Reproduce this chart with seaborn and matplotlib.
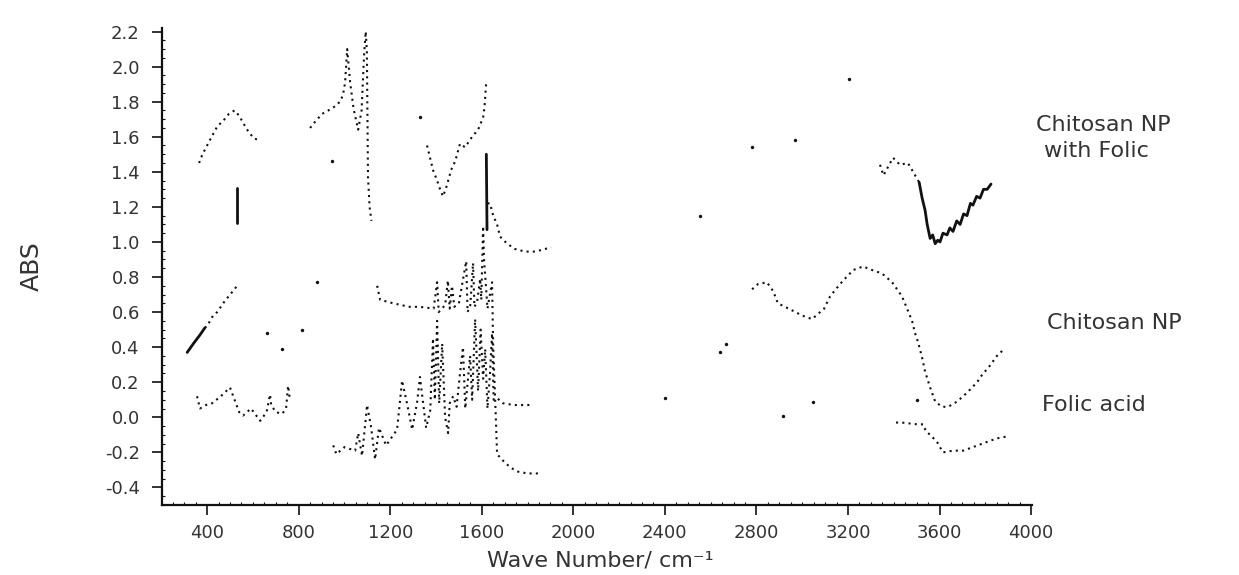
import numpy as np
import pandas as pd
import matplotlib
matplotlib.use("Agg")
import matplotlib.pyplot as plt
import seaborn as sns
from matplotlib.ticker import MultipleLocator

nan = np.nan

# ---- Chitosan NP with Folic (top trace); nan separates visible pieces of the scan
cnpf_x = [365, 380, 400, 420, 445, 470, 495, 520, 540, 557, 580, 605, 630, nan,
          531, 531, nan,
          850, 875, 902, 930, 955, 981, 994, 1003, 1012, 1025, 1040, 1060, 1075, 1086, 1093, 1098, 1103, 1110, 1118, nan,
          1361, 1387, 1405, 1418, 1431, 1447, 1466, 1484, 1505, 1527, 1558, 1584, 1606, 1612, 1619, nan,
          1620, 1623, nan,
          1625, 1636, 1650, 1667, 1680, 1711, 1745, 1789, 1833, 1877, 1903, nan,
          3340, 3355, 3397, 3427, 3462, 3480, 3511, nan,
          3511, 3524, 3537, 3546, 3559, 3570, 3581, 3592, 3602, 3615, 3633, 3645, 3659, 3675, 3690, 3705,
          3720, 3735, 3746, 3762, 3777, 3792, 3808, 3825]
cnpf_y = [1.45, 1.50, 1.55, 1.60, 1.66, 1.69, 1.73, 1.75, 1.72, 1.68, 1.63, 1.59, 1.58, nan,
          1.31, 1.11, nan,
          1.65, 1.69, 1.73, 1.75, 1.77, 1.80, 1.84, 1.91, 2.10, 1.91, 1.76, 1.64, 1.75, 2.07, 2.20, 2.09, 1.37, 1.20, 1.12, nan,
          1.55, 1.41, 1.35, 1.30, 1.26, 1.32, 1.41, 1.46, 1.56, 1.54, 1.60, 1.64, 1.71, 1.77, 1.90, nan,
          1.50, 1.07, nan,
          1.22, 1.22, 1.15, 1.10, 1.03, 0.99, 0.96, 0.945, 0.945, 0.96, 0.97, nan,
          1.44, 1.38, 1.48, 1.44, 1.45, 1.41, 1.34, nan,
          1.34, 1.25, 1.18, 1.10, 1.02, 1.04, 0.99, 1.01, 1.00, 1.05, 1.04, 1.08, 1.06, 1.12, 1.10, 1.16,
          1.15, 1.22, 1.21, 1.26, 1.25, 1.30, 1.30, 1.33]
cnpf_kinds = ["dot", "solid", "dot", "dot", "solid", "dot", "dot", "solid"]
cnpf_dots_x = [946, 1330, 2554, 2781, 2969, 3205]
cnpf_dots_y = [1.46, 1.71, 1.15, 1.54, 1.58, 1.93]

# ---- Chitosan NP (middle trace)
cnp_x = [313, 340, 369, 390, nan,
         390, 400, 426, 444, 470, 500, 520, 535, nan,
         1143, 1156, 1185, 1213, 1250, 1278, 1330, 1390, 1405, 1412, 1440, 1452, 1460, 1470, 1480, 1500,
         1532, 1538, 1550, 1562, 1568, 1580, 1593, 1598, 1606, 1610, 1625, 1645, 1650, 1660, 1667, 1702,
         1730, 1759, 1800, 1846, nan,
         2781, 2807, 2846, 2873, 2894, 2925, 2956, 3000, 3043, 3096, 3122, 3153, 3179, 3223, 3266, 3305,
         3349, 3393, 3436, 3480, 3493, 3506, 3524, 3537, 3559, 3581, 3611, 3638, 3677, 3720, 3764, 3790,
         3812, 3856, 3886]
cnp_y = [0.37, 0.42, 0.47, 0.51, nan,
         0.51, 0.52, 0.58, 0.60, 0.65, 0.70, 0.73, 0.76, nan,
         0.75, 0.67, 0.66, 0.65, 0.64, 0.63, 0.63, 0.62, 0.77, 0.60, 0.64, 0.78, 0.62, 0.75, 0.63, 0.65,
         0.89, 0.60, 0.64, 0.88, 0.63, 0.66, 0.79, 0.67, 1.09, 0.90, 0.62, 0.77, 0.40, 0.05, -0.21, -0.26,
         -0.29, -0.31, -0.32, -0.32, nan,
         0.73, 0.76, 0.77, 0.72, 0.65, 0.63, 0.61, 0.58, 0.56, 0.62, 0.69, 0.74, 0.78, 0.84, 0.86, 0.84,
         0.82, 0.77, 0.69, 0.55, 0.48, 0.43, 0.34, 0.26, 0.17, 0.09, 0.06, 0.06, 0.09, 0.14, 0.20, 0.25,
         0.28, 0.36, 0.39]
cnp_kinds = ["solid", "dot", "dot", "dot"]
cnp_dots_x = [660, 728, 815, 880, 2640, 2665]
cnp_dots_y = [0.48, 0.39, 0.50, 0.77, 0.37, 0.42]

# ---- Folic acid (bottom trace)
fa_x = [356, 369, 395, 422, 460, 500, 540, 557, 592, 632, 660, 675, 680, 700, 728, 745, 754, 762, nan,
        951, 965, 1000, 1047, 1060, 1077, 1099, 1117, 1134, 1151, 1182, 1230, 1252, 1278, 1296, 1318,
        1330, 1357, 1375, 1387, 1395, 1405, 1414, 1427, 1440, 1453, 1460, 1475, 1490, 1505, 1518, 1528,
        1549, 1558, 1571, 1584, 1595, 1606, 1615, 1625, 1636, 1645, 1652, 1667, 1693, 1740, 1790, 1824, nan,
        3410, 3436, 3502, 3528, 3541, 3559, 3589, 3615, 3659, 3703, 3746, 3808, 3851, 3891]
fa_y = [0.12, 0.05, 0.07, 0.08, 0.12, 0.17, 0.03, 0.01, 0.05, -0.02, 0.03, 0.13, 0.07, 0.03, 0.02, 0.05, 0.18, 0.10, nan,
        -0.16, -0.21, -0.17, -0.19, -0.09, -0.22, 0.07, -0.06, -0.24, -0.06, -0.16, -0.07, 0.21, 0.05, -0.07, 0.09,
        0.23, -0.06, 0.04, 0.45, 0.10, 0.55, 0.08, 0.42, 0.00, -0.09, 0.08, 0.12, 0.06, 0.25, 0.40, 0.05,
        0.35, 0.10, 0.56, 0.15, 0.50, 0.22, 0.39, 0.05, 0.25, 0.48, 0.10, 0.11, 0.08, 0.07, 0.07, 0.07, nan,
        -0.03, -0.03, -0.04, -0.04, -0.08, -0.10, -0.14, -0.20, -0.19, -0.19, -0.17, -0.14, -0.12, -0.11]
fa_kinds = ["dot", "dot", "dot"]
fa_dots_x = [2400, 2917, 3047, 3502]
fa_dots_y = [0.11, 0.01, 0.09, 0.10]

x_ticks = [400, 800, 1200, 1600, 2000, 2400, 2800, 3200, 3600, 4000]
y_ticks = [-0.4, -0.2, 0.0, 0.2, 0.4, 0.6, 0.8, 1.0, 1.2, 1.4, 1.6, 1.8, 2.0, 2.2]

labels = ["Chitosan NP", "with Folic", "Chitosan NP", "Folic acid"]

INK = "#111111"
TXT = "#333333"


def build(xs, ys, kinds, name):
    x = np.asarray(xs, float)
    y = np.asarray(ys, float)
    seg = np.cumsum(np.isnan(x))
    keep = ~np.isnan(x)
    df = pd.DataFrame({"x": x[keep], "y": y[keep], "seg": seg[keep]})
    df["kind"] = [kinds[s] for s in df["seg"]]
    df["seg"] = name + df["seg"].astype(str)
    return df


sns.set_style("ticks")
plt.rcParams["font.family"] = ["DejaVu Sans"]

W, H = 1239, 575
fig = plt.figure(figsize=(W / 100, H / 100), dpi=100)
ax = fig.add_axes([162 / W, 1 - 505 / H, (1032 - 162) / W, (505 - 28) / H])

series = [
    (cnpf_x, cnpf_y, cnpf_kinds, "a", cnpf_dots_x, cnpf_dots_y),
    (cnp_x, cnp_y, cnp_kinds, "b", cnp_dots_x, cnp_dots_y),
    (fa_x, fa_y, fa_kinds, "c", fa_dots_x, fa_dots_y),
]
for xs, ys, kinds, name, dx, dy in series:
    df = build(xs, ys, kinds, name)
    dotted = df[df["kind"] == "dot"]
    solid = df[df["kind"] == "solid"]
    sns.lineplot(data=dotted, x="x", y="y", units="seg", estimator=None, sort=False,
                 color=INK, lw=1.5, linestyle=(0, (1, 2.0)), legend=False, ax=ax)
    if len(solid):
        sns.lineplot(data=solid, x="x", y="y", units="seg", estimator=None, sort=False,
                     color=INK, lw=2.0, linestyle="-", legend=False, ax=ax)
    sns.scatterplot(x=dx, y=dy, color=INK, s=6, linewidth=0, legend=False, ax=ax)

ax.set_xlim(203, 4004)
ax.set_ylim(-0.5, 2.22)
ax.set_xticks(x_ticks)
ax.set_xticklabels([str(v) for v in x_ticks])
ax.set_yticks(y_ticks)
ax.set_yticklabels([f"{v:.1f}" for v in y_ticks])
ax.xaxis.set_minor_locator(MultipleLocator(50))
ax.yaxis.set_minor_locator(MultipleLocator(0.05))
ax.tick_params(axis="both", which="major", direction="out", length=7, width=1.2,
               color=INK, labelsize=13, labelcolor=TXT)
ax.tick_params(axis="x", which="major", pad=7)
ax.tick_params(axis="y", which="major", pad=9)
ax.tick_params(axis="both", which="minor", direction="in", length=2.5, width=0.8, color=INK)
ax.set_xlabel("")
ax.set_ylabel("")
sns.despine(ax=ax)
for s in ("left", "bottom"):
    ax.spines[s].set_linewidth(1.6)
    ax.spines[s].set_color(INK)

fig.text(32 / W, 1 - 266 / H, "ABS", rotation=90, ha="center", va="center",
         fontsize=18, color=TXT)
fig.text(600 / W, 1 - 561 / H, "Wave Number/ cm\u207b\u00b9", ha="center", va="center",
         fontsize=16, color=TXT)
fig.text(1036 / W, 1 - 125 / H, labels[0], ha="left", va="center", fontsize=16, color=TXT)
fig.text(1044 / W, 1 - 151 / H, labels[1], ha="left", va="center", fontsize=16, color=TXT)
fig.text(1047 / W, 1 - 323 / H, labels[2], ha="left", va="center", fontsize=16, color=TXT)
fig.text(1042 / W, 1 - 405 / H, labels[3], ha="left", va="center", fontsize=16, color=TXT)

fig.savefig("out.png", dpi=100, facecolor="white")
